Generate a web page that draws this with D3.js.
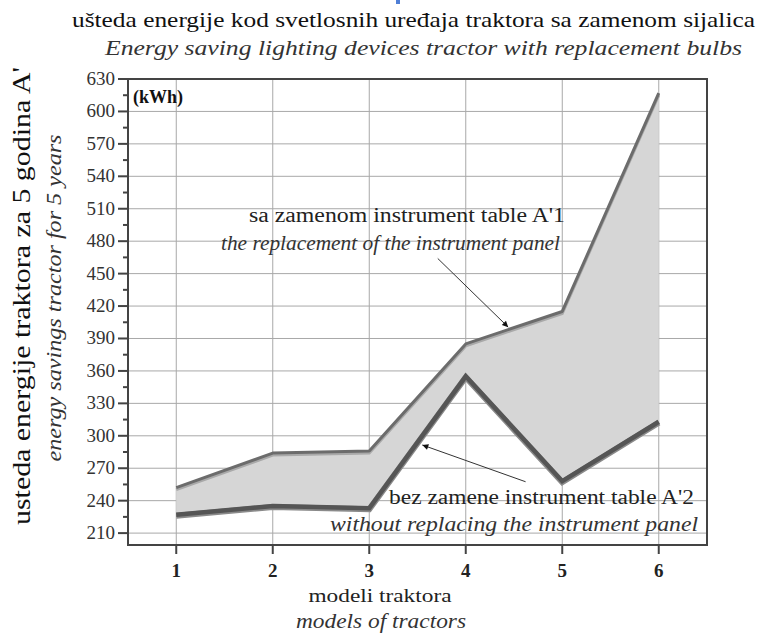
<!DOCTYPE html>
<html>
<head>
<meta charset="utf-8">
<script src="https://cdn.jsdelivr.net/npm/d3@7"></script>
<style>
  body { margin: 0; background: #fff; }
  svg text { font-family: "Times New Roman", "Liberation Serif", Times, serif; }
  svg { display: block; }
  .grid line { stroke: #a8a8a8; stroke-width: 1; }
  .tick-label { fill: #333; font-size: 19px; }
</style>
</head>
<body>
<svg id="chart" width="761" height="633"></svg>
<script>
// models of tractors (x categories)
const models = [1, 2, 3, 4, 5, 6]
// A'1 - sa zamenom instrument table (kWh)
const withReplacement = [252, 284, 286, 385, 415, 617]
// A'2 - bez zamene instrument table (kWh)
const withoutReplacement = [227, 235, 233, 355, 258, 313]
const yTicks = [210, 240, 270, 300, 330, 360, 390, 420, 450, 480, 510, 540, 570, 600, 630]
const yMinor = [225, 255, 285, 315, 345, 375, 405, 435, 465, 495, 525, 555, 585, 615]

const svg = d3.select('#chart')

const plotLeft = 128, plotRight = 707, plotTop = 79, plotBottom = 545

const x = d3.scaleLinear().domain([0.5, 6.5]).range([plotLeft, plotRight])
const y = d3.scaleLinear().domain([199, 630]).range([plotBottom, plotTop])

// titles
svg.append('text')
    .attr('x', 72).attr('y', 27)
    .attr('font-size', 22)
    .attr('textLength', 683).attr('lengthAdjust', 'spacingAndGlyphs')
    .attr('fill', '#111')
    .text('ušteda energije kod svetlosnih uređaja traktora sa zamenom sijalica')

svg.append('text')
    .attr('x', 105).attr('y', 55)
    .attr('font-size', 21)
    .attr('font-style', 'italic')
    .attr('textLength', 637).attr('lengthAdjust', 'spacingAndGlyphs')
    .attr('fill', '#333')
    .text('Energy saving lighting devices tractor with replacement bulbs')

// little blue mark over the title
svg.append('rect')
    .attr('x', 396).attr('y', 0).attr('width', 4).attr('height', 4)
    .attr('fill', '#4f7fd6')

// grid
const grid = svg.append('g').attr('class', 'grid')
grid.selectAll('.hgrid')
    .data(yTicks.slice(0, -1))
    .enter()
    .append('line')
    .attr('x1', plotLeft).attr('x2', plotRight)
    .attr('y1', d => y(d)).attr('y2', d => y(d))

grid.selectAll('.vgrid')
    .data(models)
    .enter()
    .append('line')
    .attr('x1', d => x(d)).attr('x2', d => x(d))
    .attr('y1', plotTop).attr('y2', plotBottom)

// area between the two series
const areaGen = d3.area()
    .x((d, i) => x(models[i]))
    .y0((d, i) => y(withoutReplacement[i]))
    .y1(d => y(d))

svg.append('path')
    .attr('d', areaGen(withReplacement))
    .attr('fill', '#d6d6d6')

const lineGen = d3.line()
    .x((d, i) => x(models[i]))
    .y(d => y(d))

// upper line, with a light shade under it
svg.append('path')
    .attr('d', lineGen(withReplacement))
    .attr('fill', 'none')
    .attr('stroke', '#a9a9a9')
    .attr('stroke-width', 3)
    .attr('transform', 'translate(0,2)')

svg.append('path')
    .attr('d', lineGen(withReplacement))
    .attr('fill', 'none')
    .attr('stroke', '#6c6c6c')
    .attr('stroke-width', 3)
    .attr('stroke-linejoin', 'round')

// lower line
svg.append('path')
    .attr('d', lineGen(withoutReplacement))
    .attr('fill', 'none')
    .attr('stroke', '#8a8a8a')
    .attr('stroke-width', 6)
    .attr('transform', 'translate(0,1)')

svg.append('path')
    .attr('d', lineGen(withoutReplacement))
    .attr('fill', 'none')
    .attr('stroke', '#555')
    .attr('stroke-width', 4.5)
    .attr('stroke-linejoin', 'miter')

// frame
svg.append('rect')
    .attr('x', plotLeft).attr('y', plotTop)
    .attr('width', plotRight - plotLeft).attr('height', plotBottom - plotTop)
    .attr('fill', 'none')
    .attr('stroke', '#444')
    .attr('stroke-width', 2)

// y axis ticks
const yAxis = svg.append('g')
yAxis.selectAll('.major')
    .data(yTicks)
    .enter()
    .append('line')
    .attr('class', 'major')
    .attr('x1', plotLeft - 10).attr('x2', plotLeft)
    .attr('y1', d => y(d)).attr('y2', d => y(d))
    .attr('stroke', '#444').attr('stroke-width', 2)

yAxis.selectAll('.minor')
    .data(yMinor)
    .enter()
    .append('line')
    .attr('class', 'minor')
    .attr('x1', plotLeft - 5).attr('x2', plotLeft)
    .attr('y1', d => y(d)).attr('y2', d => y(d))
    .attr('stroke', '#444').attr('stroke-width', 2)

yAxis.selectAll('.tick-label')
    .data(yTicks)
    .enter()
    .append('text')
    .attr('class', 'tick-label')
    .attr('x', plotLeft - 13)
    .attr('y', d => y(d) + 6)
    .attr('text-anchor', 'end')
    .text(d => d)

// x axis ticks
const xAxis = svg.append('g')
xAxis.selectAll('line')
    .data(models)
    .enter()
    .append('line')
    .attr('x1', d => x(d)).attr('x2', d => x(d))
    .attr('y1', plotBottom).attr('y2', plotBottom + 9)
    .attr('stroke', '#444').attr('stroke-width', 2)

xAxis.selectAll('text')
    .data(models)
    .enter()
    .append('text')
    .attr('x', d => x(d))
    .attr('y', 577)
    .attr('text-anchor', 'middle')
    .attr('font-size', 19)
    .attr('font-weight', 'bold')
    .attr('fill', '#222')
    .text(d => d)

// axis titles
svg.append('text')
    .attr('x', 380).attr('y', 602)
    .attr('text-anchor', 'middle')
    .attr('font-size', 19)
    .attr('fill', '#222')
    .attr('textLength', 143).attr('lengthAdjust', 'spacingAndGlyphs')
    .text('modeli traktora')

svg.append('text')
    .attr('x', 381).attr('y', 628)
    .attr('text-anchor', 'middle')
    .attr('font-size', 20)
    .attr('font-style', 'italic')
    .attr('fill', '#333')
    .attr('textLength', 170).attr('lengthAdjust', 'spacingAndGlyphs')
    .text('models of tractors')

svg.append('text')
    .attr('transform', 'translate(30,296) rotate(-90)')
    .attr('text-anchor', 'middle')
    .attr('font-size', 26)
    .attr('fill', '#111')
    .attr('textLength', 458).attr('lengthAdjust', 'spacingAndGlyphs')
    .text("usteda energije traktora za 5 godina  A'")

svg.append('text')
    .attr('transform', 'translate(61,298) rotate(-90)')
    .attr('text-anchor', 'middle')
    .attr('font-size', 20)
    .attr('font-style', 'italic')
    .attr('fill', '#333')
    .attr('textLength', 327).attr('lengthAdjust', 'spacingAndGlyphs')
    .text('energy savings tractor for 5 years')

svg.append('text')
    .attr('x', 133).attr('y', 103)
    .attr('font-size', 18)
    .attr('font-weight', 'bold')
    .attr('fill', '#111')
    .text('(kWh)')

// annotations
const defs = svg.append('defs')
defs.append('marker')
    .attr('id', 'arrow')
    .attr('viewBox', '0 0 10 10')
    .attr('refX', 10).attr('refY', 5)
    .attr('markerWidth', 9).attr('markerHeight', 6)
    .attr('markerUnits', 'userSpaceOnUse')
    .attr('orient', 'auto')
    .append('path')
    .attr('d', 'M0,0 L10,5 L0,10 Z')
    .attr('fill', '#111')

const arrows = [
    { from: [3.71, 464], to: [4.44, 400.5] },
    { from: [4.62, 257.5], to: [3.55, 291.5] }
]

svg.selectAll('.arrow')
    .data(arrows)
    .enter()
    .append('line')
    .attr('class', 'arrow')
    .attr('x1', d => x(d.from[0])).attr('y1', d => y(d.from[1]))
    .attr('x2', d => x(d.to[0])).attr('y2', d => y(d.to[1]))
    .attr('stroke', '#333').attr('stroke-width', 1)
    .attr('marker-end', 'url(#arrow)')

const notes = [
    { x: 249, y: 222, len: 316, italic: false, text: "sa zamenom  instrument table  A'1" },
    { x: 221, y: 250, len: 339, italic: true, text: 'the replacement of the instrument panel' },
    { x: 389, y: 504, len: 305, italic: false, text: "bez zamene instrument table A'2" },
    { x: 330, y: 531, len: 368, italic: true, text: 'without replacing the instrument panel' }
]

svg.selectAll('.note')
    .data(notes)
    .enter()
    .append('text')
    .attr('class', 'note')
    .attr('x', d => d.x).attr('y', d => d.y)
    .attr('font-size', 20)
    .attr('font-style', d => d.italic ? 'italic' : 'normal')
    .attr('fill', d => d.italic ? '#333' : '#222')
    .attr('textLength', d => d.len).attr('lengthAdjust', 'spacingAndGlyphs')
    .text(d => d.text)
</script>
</body>
</html>
